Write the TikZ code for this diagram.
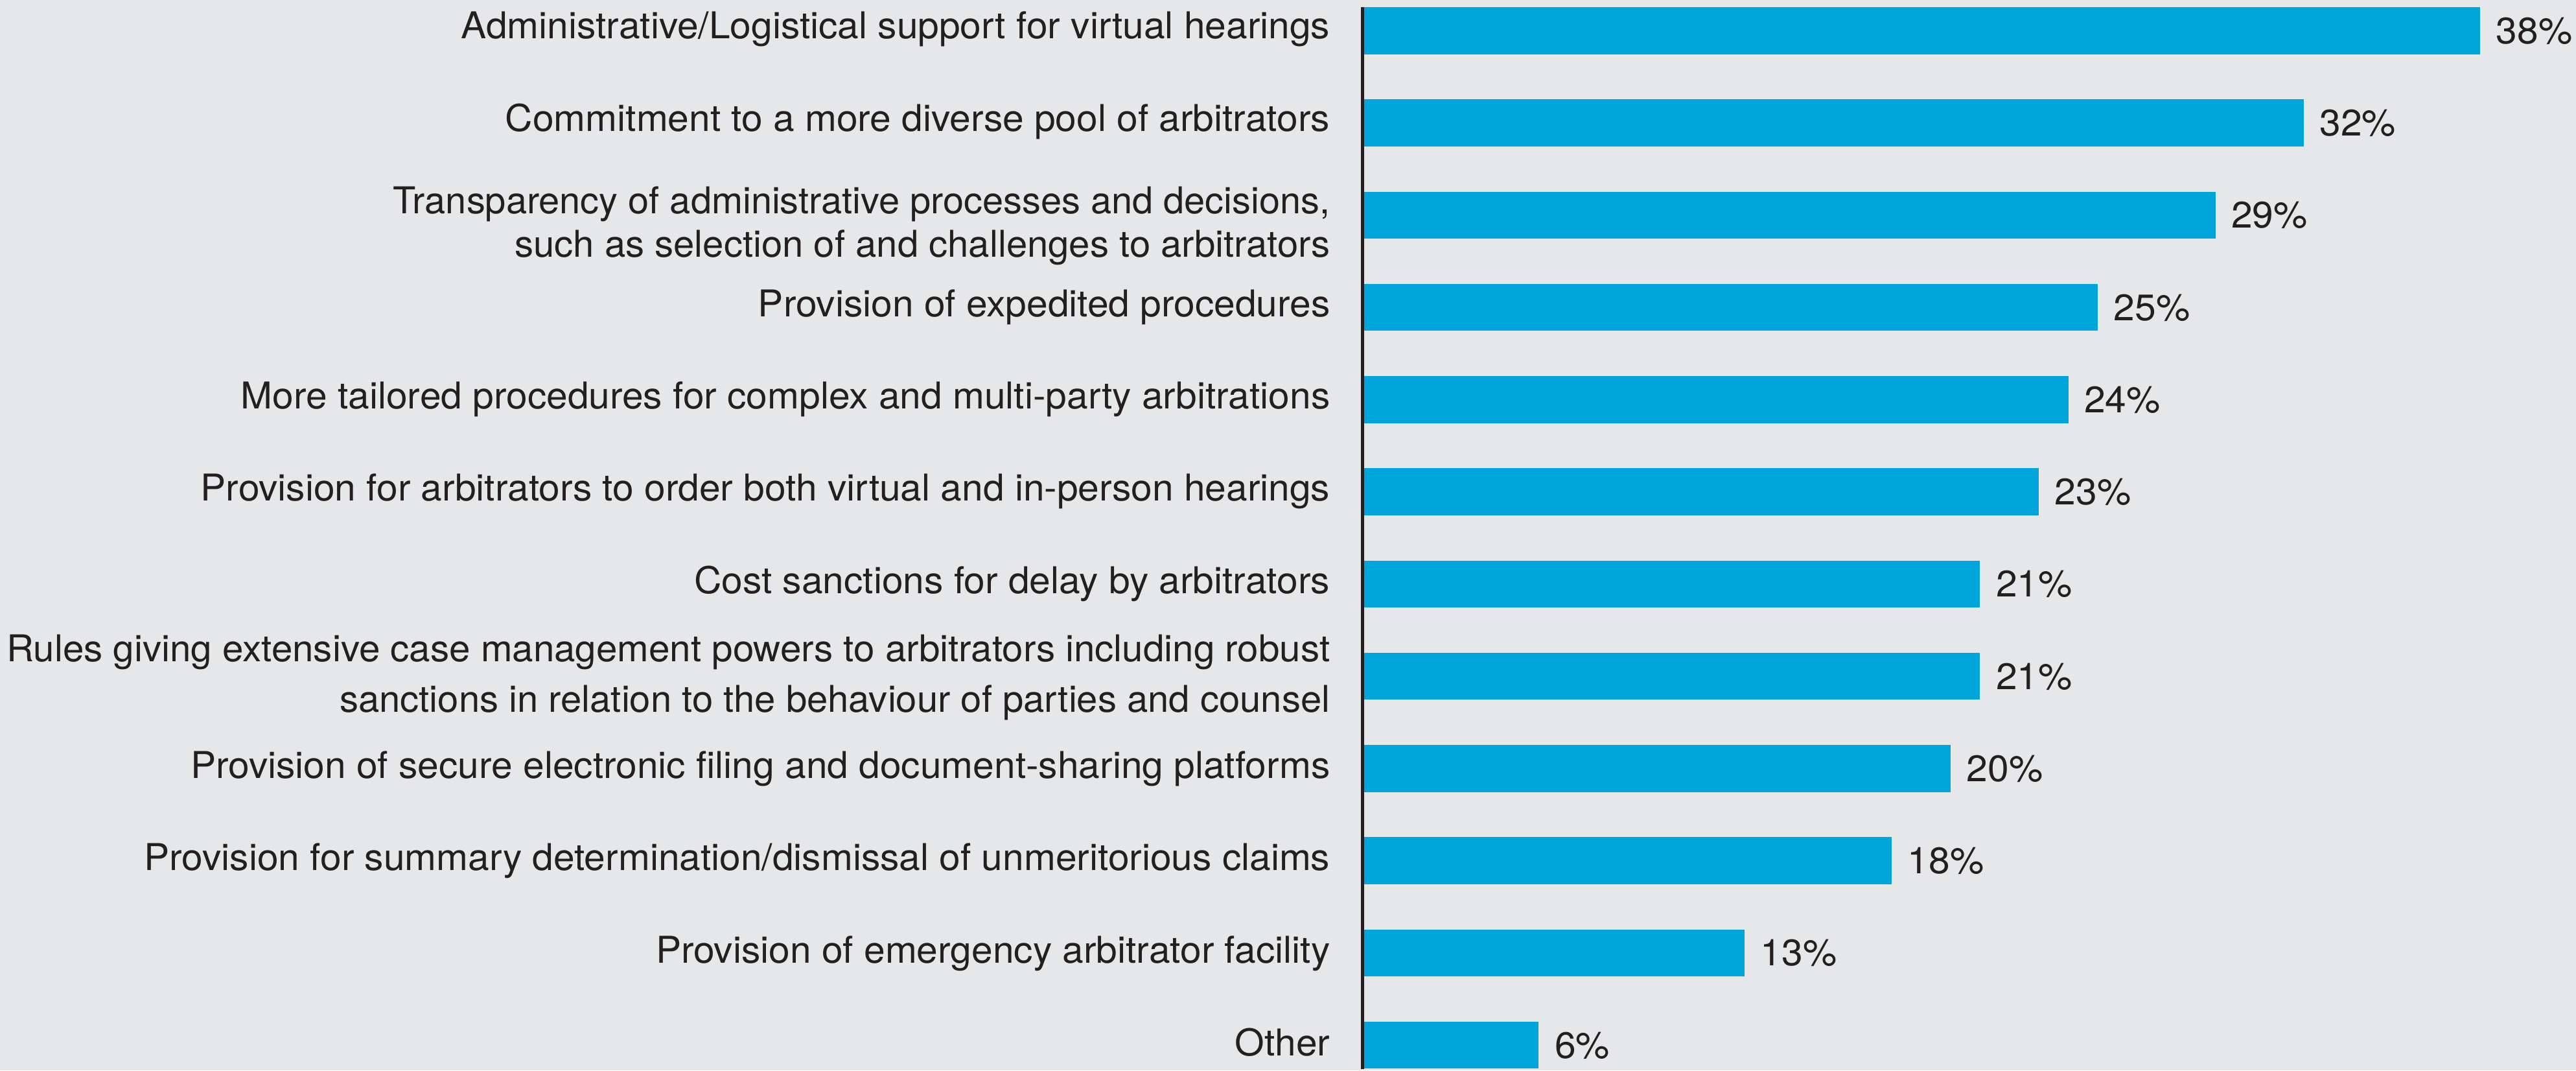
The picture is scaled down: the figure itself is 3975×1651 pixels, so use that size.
\documentclass[tikz,border=0pt]{standalone}
\usepackage{fontspec}
\setmainfont{TeX Gyre Heros}[FakeStretch=1.03]
\definecolor{bgc}{HTML}{E6E7E9}
\definecolor{barc}{HTML}{00A5DB}
\definecolor{txtc}{HTML}{231F20}
\newcommand\lblfont{\fontsize{16.2pt}{19pt}\selectfont}
\newcommand\mkbar[3]{%
  \pgfmathsetmacro\bt{11+142.27*#1}%
  \pgfmathsetmacro\bb{\bt+72.5}%
  \pgfmathsetmacro\bc{\bt+36.25}%
  \pgfmathsetmacro\be{2102+45.4*#2}%
  \fill[barc] (2102,\bt) rectangle (\be,\bb);
  \coordinate (e#3) at (\be,\bc);
  \node[pct] (p#3) at ([xshift=0.24cm,yshift=-0.2cm]e#3) {#2\%};
}
\begin{document}
\begin{tikzpicture}[x=0.01cm,y=-0.01cm,
  lbl/.style={anchor=base east,inner sep=0pt,text=txtc,font=\lblfont},
  pct/.style={anchor=base west,inner sep=0pt,text=txtc,font=\lblfont},
  axisline/.style={draw=txtc,line width=0.05cm}]
\fill[bgc] (0,0) rectangle (3975,1651);
\useasboundingbox (0,0) rectangle (3975,1651);
% bars and percentages
\mkbar{0}{38}{a}
\mkbar{1}{32}{b}
\mkbar{2}{29}{c}
\mkbar{3}{25}{d}
\mkbar{4}{24}{e}
\mkbar{5}{23}{f}
\mkbar{6}{21}{g}
\mkbar{7}{21}{h}
\mkbar{8}{20}{i}
\mkbar{9}{18}{j}
\mkbar{10}{13}{k}
\mkbar{11}{6}{l}
% axis
\coordinate (axtop) at (2102,11);
\coordinate (axbot) at (2102,1649);
\draw[axisline] (axtop) -- (axbot);
% category labels
\node[lbl] (la) at (2053,59) {Administrative/Logistical support for virtual hearings};
\node[lbl] (lb) at (2053,202) {Commitment to a more diverse pool of arbitrators};
\node[lbl] (lc1) at (2053,329) {\scalebox{0.984}[1]{Transparency of administrative processes and decisions,}};
\node[lbl] (lc2) at (2053,396) {\scalebox{0.99}[1]{such as selection of and challenges to arbitrators}};
\node[lbl] (ld) at (2053,488) {Provision of expedited procedures};
\node[lbl] (le) at (2053,630) {More tailored procedures for complex and multi-party arbitrations};
\node[lbl] (lf) at (2053,772) {Provision for arbitrators to order both virtual and in-person hearings};
\node[lbl] (lg) at (2053,915) {Cost sanctions for delay by arbitrators};
\node[lbl] (lh1) at (2053,1020) {\scalebox{0.994}[1]{Rules giving extensive case management powers to arbitrators including robust}};
\node[lbl] (lh2) at (2053,1098) {\scalebox{0.989}[1]{sanctions in relation to the behaviour of parties and counsel}};
\node[lbl] (li) at (2053,1200) {Provision of secure electronic filing and document-sharing platforms};
\node[lbl] (lj) at (2053,1342) {Provision for summary determination/dismissal of unmeritorious claims};
\node[lbl] (lk) at (2053,1485) {Provision of emergency arbitrator facility};
\node[lbl] (ll) at (2053,1628) {Other};
\end{tikzpicture}
\end{document}
